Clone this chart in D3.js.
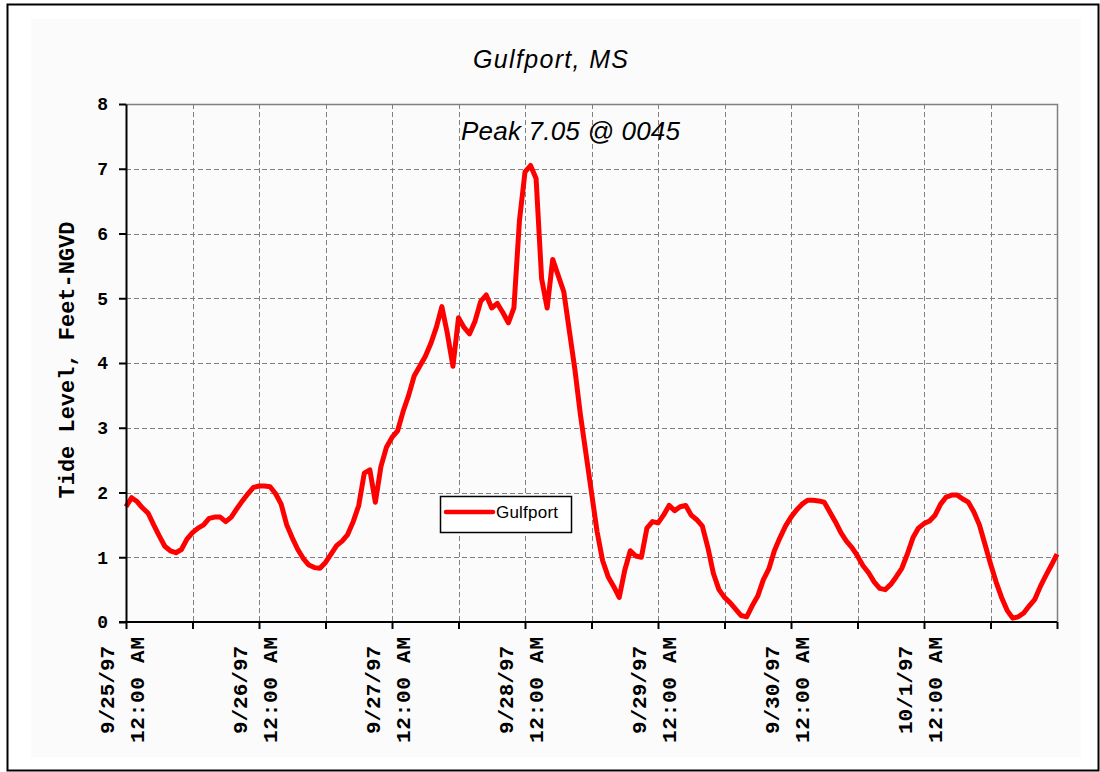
<!DOCTYPE html>
<html>
<head>
<meta charset="utf-8">
<script src="https://cdn.jsdelivr.net/npm/d3@7"></script>
<style>
  body { margin: 0; background: #fff; }
  svg { display: block; }
</style>
</head>
<body>
<div id="chart"></div>
<script>
// tide readings, hourly from 9/25/97 00:00 (feet NGVD)
const levels = [
  1.78, 1.92, 1.86, 1.76, 1.68, 1.50, 1.33, 1.17, 1.10, 1.07, 1.12, 1.28,
  1.38, 1.45, 1.50, 1.60, 1.62, 1.62, 1.55, 1.62, 1.75, 1.87, 1.98, 2.08,
  2.10, 2.10, 2.09, 1.98, 1.82, 1.50, 1.30, 1.12, 0.98, 0.88, 0.84, 0.83,
  0.92, 1.05, 1.18, 1.25, 1.35, 1.55, 1.80, 2.30, 2.35, 1.85, 2.40, 2.70,
  2.85, 2.95, 3.25, 3.50, 3.80, 3.95, 4.10, 4.30, 4.55, 4.87, 4.45, 3.95,
  4.70, 4.55, 4.45, 4.65, 4.95, 5.05, 4.85, 4.92, 4.78, 4.62, 4.85, 6.20,
  6.95, 7.05, 6.85, 5.30, 4.85, 5.60, 5.35, 5.10, 4.50, 3.90, 3.20, 2.60,
  2.00, 1.40, 0.95, 0.70, 0.55, 0.38, 0.80, 1.10, 1.02, 1.00, 1.45, 1.55,
  1.53, 1.65, 1.80, 1.72, 1.78, 1.80, 1.65, 1.58, 1.48, 1.15, 0.75, 0.50,
  0.38, 0.30, 0.20, 0.10, 0.08, 0.25, 0.40, 0.65, 0.82, 1.10, 1.30, 1.48,
  1.62, 1.73, 1.82, 1.88, 1.88, 1.87, 1.85, 1.70, 1.55, 1.38, 1.25, 1.15,
  1.02, 0.87, 0.76, 0.62, 0.52, 0.50, 0.58, 0.70, 0.83, 1.05, 1.30, 1.45,
  1.52, 1.56, 1.65, 1.82, 1.93, 1.96, 1.96, 1.90, 1.85, 1.70, 1.50, 1.20,
  0.90, 0.62, 0.38, 0.18, 0.06, 0.08, 0.14, 0.25, 0.35, 0.55, 0.72, 0.88,
  1.05
];
const dayLabels = ["9/25/97", "9/26/97", "9/27/97", "9/28/97", "9/29/97", "9/30/97", "10/1/97"];
const timeLabel = "12:00 AM";
const yTicks = [0, 1, 2, 3, 4, 5, 6, 7, 8];
const seriesName = "Gulfport";
const titleText = "Gulfport, MS";
const noteText = "Peak 7.05 @ 0045";
const yTitle = "Tide Level, Feet-NGVD";

const width = 1100, height = 772;
const plot = { left: 126, right: 1057, top: 104, bottom: 622 };
const start = new Date(1997, 8, 25, 0, 0);
const end = d3.timeHour.offset(start, 168);

const svg = d3.select("#chart").append("svg")
    .attr("width", width).attr("height", height);

// outer frame + chart area
svg.append("rect")
    .attr("x", 7.5).attr("y", 4.5).attr("width", 1091).attr("height", 766)
    .attr("fill", "#fff").attr("stroke", "#000").attr("stroke-width", 2);
svg.append("rect")
    .attr("x", 31).attr("y", 19).attr("width", 1050).attr("height", 738)
    .attr("fill", "#fbfbfb");

const x = d3.scaleTime().domain([start, end]).range([plot.left, plot.right]);
const y = d3.scaleLinear().domain([0, 8]).range([plot.bottom, plot.top]);

const halfDays = d3.range(0, 169, 12).map(h => d3.timeHour.offset(start, h));

// grid
const grid = svg.append("g")
    .attr("stroke", "#808080").attr("stroke-width", 1).attr("stroke-dasharray", "5,3");
grid.selectAll(".vg")
    .data(halfDays.slice(1, -1))
    .join("line")
    .attr("x1", d => Math.round(x(d)) + 0.5).attr("x2", d => Math.round(x(d)) + 0.5)
    .attr("y1", plot.top).attr("y2", plot.bottom);
grid.selectAll(".hg")
    .data(yTicks.slice(1, -1))
    .join("line")
    .attr("x1", plot.left).attr("x2", plot.right)
    .attr("y1", d => Math.round(y(d)) + 0.5).attr("y2", d => Math.round(y(d)) + 0.5);

// top / right border of plot
svg.append("path")
    .attr("d", `M${plot.left},${plot.top + 0.5}H${plot.right + 0.5}V${plot.bottom}`)
    .attr("fill", "none").attr("stroke", "#808080").attr("stroke-width", 1.5);

// tide line
const line = d3.line()
    .x((d, i) => x(d3.timeHour.offset(start, i)))
    .y(d => y(d));
svg.append("path")
    .datum(levels)
    .attr("d", line)
    .attr("fill", "none")
    .attr("stroke", "#ff0000")
    .attr("stroke-width", 5)
    .attr("stroke-linejoin", "round");

// y axis
const yAxis = svg.append("g")
    .attr("transform", `translate(${plot.left},0)`)
    .call(d3.axisLeft(y).tickValues(yTicks).tickSize(7).tickPadding(11).tickSizeOuter(0));
yAxis.select(".domain").attr("stroke", "#000").attr("stroke-width", 2);
yAxis.selectAll(".tick line").attr("stroke", "#000").attr("stroke-width", 2);
yAxis.selectAll(".tick text")
    .attr("fill", "#000")
    .style("font-family", "'Liberation Mono', monospace")
    .style("font-weight", "bold")
    .style("font-size", "18px");

// x axis
const xAxis = svg.append("g")
    .attr("transform", `translate(0,${plot.bottom})`)
    .call(d3.axisBottom(x).tickValues(halfDays).tickSize(7).tickFormat("").tickSizeOuter(0));
xAxis.select(".domain").attr("stroke", "#000").attr("stroke-width", 2)
    .attr("d", `M${plot.left - 7},0H${plot.right}`);
xAxis.selectAll(".tick line").attr("stroke", "#000").attr("stroke-width", 2);

// date labels (rotated, two lines)
const labelFont = "'Liberation Mono', monospace";
const lbl = svg.selectAll(".xl")
    .data(dayLabels)
    .join("g")
    .attr("transform", (d, i) => `translate(${x(d3.timeDay.offset(start, i))},690)`);
lbl.append("text")
    .attr("transform", "translate(-19,0) rotate(-90)")
    .attr("text-anchor", "middle").attr("dy", "0.35em")
    .style("font-family", labelFont).style("font-weight", "bold").style("font-size", "21px")
    .text(d => d);
lbl.append("text")
    .attr("transform", "translate(11,0) rotate(-90)")
    .attr("text-anchor", "middle").attr("dy", "0.35em")
    .style("font-family", labelFont).style("font-weight", "bold").style("font-size", "21px")
    .attr("textLength", 106).attr("lengthAdjust", "spacing")
    .text(timeLabel);

// y title
svg.append("text")
    .attr("transform", "translate(66,360) rotate(-90)")
    .attr("text-anchor", "middle").attr("dy", "0.35em")
    .style("font-family", labelFont).style("font-weight", "bold").style("font-size", "22px")
    .attr("textLength", 277).attr("lengthAdjust", "spacing")
    .text(yTitle);

// title and annotation
svg.append("text")
    .attr("x", 473).attr("y", 68)
    .style("font-family", "'Liberation Sans', Arial, sans-serif")
    .style("font-style", "italic").style("font-size", "25px")
    .attr("textLength", 155).attr("lengthAdjust", "spacing")
    .text(titleText);
svg.append("text")
    .attr("x", 461).attr("y", 140)
    .style("font-family", "'Liberation Sans', Arial, sans-serif")
    .style("font-style", "italic").style("font-size", "26px")
    .attr("textLength", 219).attr("lengthAdjust", "spacing")
    .text(noteText);

// legend
const lg = svg.append("g").attr("transform", "translate(440,496)");
lg.append("rect")
    .attr("x", 0.5).attr("y", 0.5).attr("width", 131).attr("height", 36)
    .attr("fill", "#fff").attr("stroke", "#000").attr("stroke-width", 1.5);
lg.append("line")
    .attr("x1", 6).attr("x2", 53).attr("y1", 16).attr("y2", 16)
    .attr("stroke", "#ff0000").attr("stroke-width", 4.5).attr("stroke-linecap", "round");
lg.append("text")
    .attr("x", 56).attr("y", 22)
    .style("font-family", "'Liberation Sans', Arial, sans-serif").style("font-size", "17px")
    .attr("textLength", 62).attr("lengthAdjust", "spacing")
    .text(seriesName);
</script>
</body>
</html>
